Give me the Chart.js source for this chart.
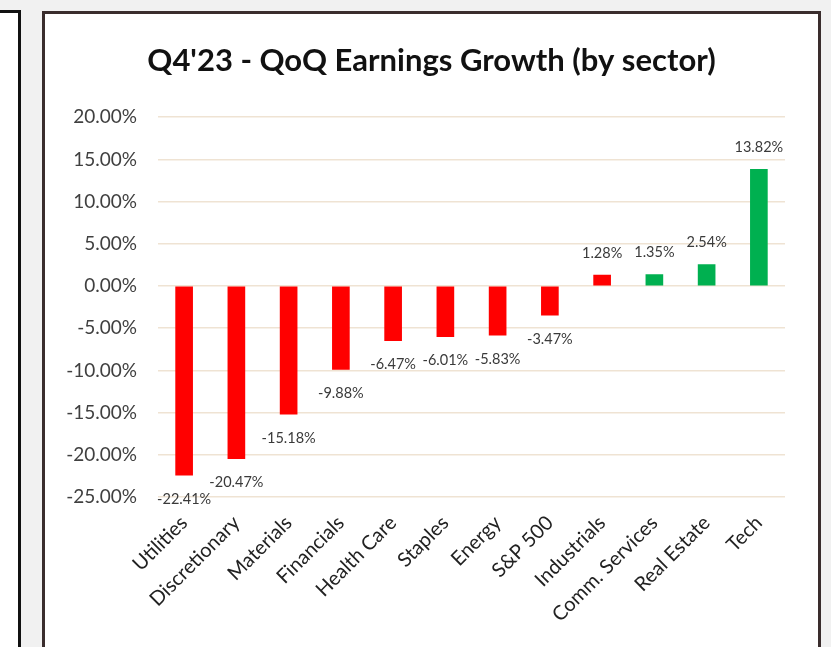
<!DOCTYPE html>
<html>
<head>
<meta charset="utf-8">
<script src="https://cdn.jsdelivr.net/npm/chart.js@4"></script>
<style>
  html, body { margin: 0; padding: 0; }
  body { width: 831px; height: 647px; background: #f1f1f1; position: relative; overflow: hidden; font-family: Lato, sans-serif; }
  #leftBox { position: absolute; left: -4px; top: 10px; width: 19px; height: 700px; background: #fff; border: 3px solid #111; }
  #frame { position: absolute; left: 42px; top: 11px; width: 773px; height: 700px; background: #fff; border: 3px solid #3a2d2d; }
  #chartCanvas { position: absolute; left: 0; top: 0; }
</style>
</head>
<body>
<div id="leftBox"></div>
<div id="frame">
  <canvas id="chartCanvas" width="773" height="633"></canvas>
</div>
<script>
const sectors = ["Utilities", "Discretionary", "Materials", "Financials", "Health Care", "Staples",
  "Energy", "S&P 500", "Industrials", "Comm. Services", "Real Estate", "Tech"];
const growth = [-22.41, -20.47, -15.18, -9.88, -6.47, -6.01, -5.83, -3.47, 1.28, 1.35, 2.54, 13.82];
const greenSectors = ["Comm. Services", "Real Estate", "Tech"];

const yMin = -25;
const yMax = 20;
const yStep = 5;

// draws the value labels at the end of each bar, like Excel's "outside end"
const valueLabels = {
  id: "valueLabels",
  afterDatasetsDraw(chart) {
    const ctx = chart.ctx;
    const meta = chart.getDatasetMeta(0);
    ctx.save();
    ctx.font = "14.5px Lato";
    ctx.fillStyle = "#3a3a3a";
    ctx.textAlign = "center";
    ctx.textBaseline = "middle";
    meta.data.forEach((bar, i) => {
      const v = growth[i];
      const y = v >= 0 ? bar.y - 22 : bar.y + 24;
      ctx.fillText(v.toFixed(2) + "%", bar.x, y);
    });
    ctx.restore();
  }
};

const ctx = document.getElementById("chartCanvas").getContext("2d");
new Chart(ctx, {
  type: "bar",
  data: {
    labels: sectors,
    datasets: [{
      label: "QoQ Earnings Growth",
      data: growth,
      backgroundColor: sectors.map(s => greenSectors.includes(s) ? "#00b050" : "#ff0000"),
      barThickness: 17
    }]
  },
  options: {
    responsive: false,
    animation: false,
    layout: { padding: 0 },
    plugins: {
      legend: { display: false },
      tooltip: { enabled: false },
      title: {
        display: true,
        text: "Q4'23 - QoQ Earnings Growth (by sector)",
        color: "#111",
        font: { family: "Lato", size: 31, weight: "bold" },
        padding: { top: 28, bottom: 38 }
      }
    },
    scales: {
      x: {
        grid: { display: false, drawTicks: false },
        border: { display: false },
        ticks: {
          color: "#222",
          font: { family: "Lato", size: 20 },
          minRotation: 45,
          maxRotation: 45,
          autoSkip: false,
          padding: 14
        },
        afterFit(scale) { scale.height = 150; }
      },
      y: {
        min: yMin,
        max: yMax,
        grid: { color: "#efe3d3", lineWidth: 1.5, drawTicks: false },
        border: { display: false },
        ticks: {
          stepSize: yStep,
          color: "#404040",
          padding: 21,
          font: { family: "Lato", size: 19 },
          callback: v => v.toFixed(2) + "%"
        },
        afterFit(scale) { scale.width = 113; }
      },
      // empty right-hand space so the title stays centred on the whole frame
      yRight: {
        position: "right",
        grid: { display: false, drawTicks: false },
        border: { display: false },
        ticks: { display: false },
        afterFit(scale) { scale.width = 33; }
      }
    }
  },
  plugins: [valueLabels]
});
</script>
</body>
</html>
